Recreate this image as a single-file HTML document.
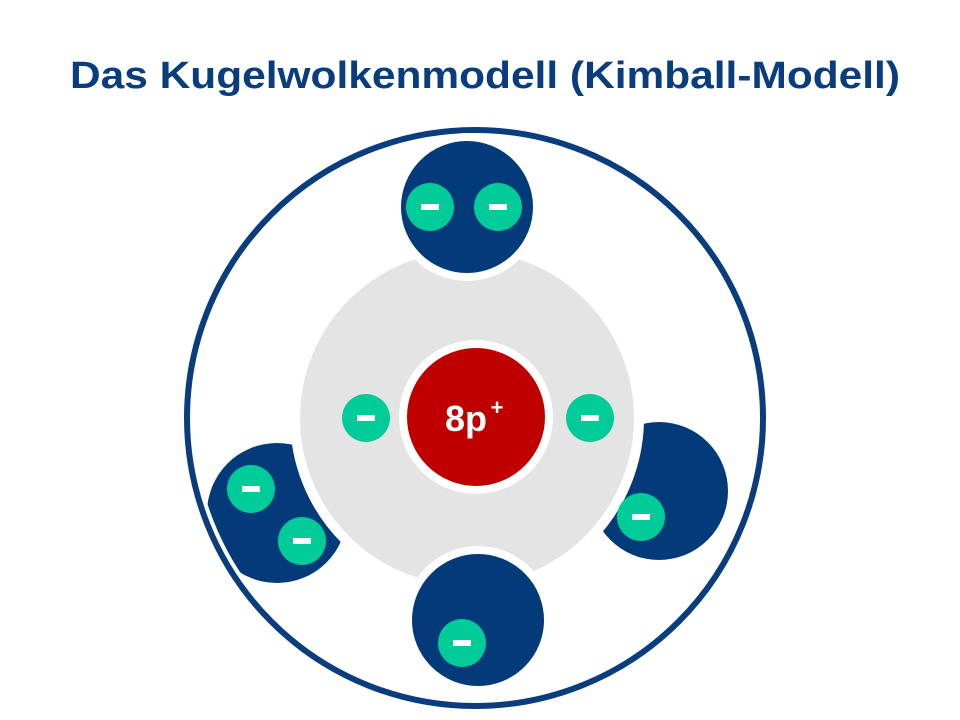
<!DOCTYPE html>
<html><head><meta charset="utf-8"><style>html,body{margin:0;padding:0;background:#fff;width:960px;height:720px;overflow:hidden}</style></head>
<body>
<svg width="960" height="720" viewBox="0 0 960 720" xmlns="http://www.w3.org/2000/svg">
<text x="485" y="88" text-anchor="middle" font-family="Liberation Sans, sans-serif" font-weight="bold" font-size="38" fill="#0a3d7d" textLength="830" lengthAdjust="spacingAndGlyphs">Das Kugelwolkenmodell (Kimball-Modell)</text>
<circle cx="277" cy="513" r="70" fill="#033b7a"/>
<circle cx="659" cy="491" r="69" fill="#033b7a"/>
<circle cx="467" cy="418" r="172" fill="#e4e4e4" stroke="#fff" stroke-width="10"/>
<circle cx="475" cy="418" r="288" fill="none" stroke="#fff" stroke-width="14"/>
<circle cx="475" cy="418" r="288" fill="none" stroke="#0a3d7d" stroke-width="6"/>
<circle cx="467" cy="207" r="70" fill="#033b7a" stroke="#fff" stroke-width="8"/>
<circle cx="478" cy="620" r="70" fill="#033b7a" stroke="#fff" stroke-width="8"/>
<circle cx="476" cy="417" r="73" fill="#c00000" stroke="#fff" stroke-width="8"/>
<text x="466" y="431" text-anchor="middle" font-family="Liberation Sans, sans-serif" font-weight="bold" font-size="36" fill="#fff">8p</text>
<text x="497" y="415" text-anchor="middle" font-family="Liberation Sans, sans-serif" font-weight="bold" font-size="22" fill="#fff">+</text>
<g fill="#00cc99">
<circle cx="430" cy="207" r="24"/><circle cx="498" cy="207" r="24"/>
<circle cx="251" cy="489" r="24"/><circle cx="302" cy="541" r="24"/>
<circle cx="366" cy="418" r="24"/><circle cx="590" cy="418" r="24"/>
<circle cx="641" cy="517" r="24"/><circle cx="462" cy="643" r="24"/>
</g>
<g fill="#fff">
<rect x="421" y="204" width="18" height="6"/><rect x="489" y="204" width="18" height="6"/>
<rect x="242" y="486" width="18" height="6"/><rect x="293" y="538" width="18" height="6"/>
<rect x="357" y="415" width="18" height="6"/><rect x="581" y="415" width="18" height="6"/>
<rect x="632" y="514" width="18" height="6"/><rect x="453" y="640" width="18" height="6"/>
</g>
</svg>
</body></html>
